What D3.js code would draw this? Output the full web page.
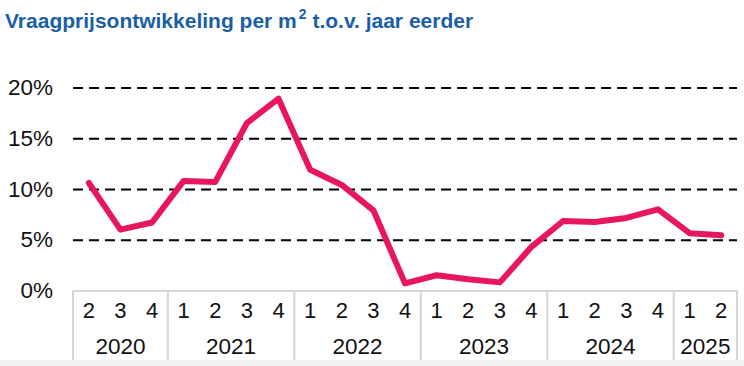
<!DOCTYPE html>
<html>
<head>
<meta charset="utf-8">
<script src="https://cdn.jsdelivr.net/npm/d3@7"></script>
<style>
  html, body { margin: 0; padding: 0; background: #fff; }
  svg { display: block; font-family: "Liberation Sans", Arial, sans-serif; }
</style>
</head>
<body>
<svg id="chart" width="744" height="366"></svg>
<script>
// ---- data ----
const periods = ["2020-2","2020-3","2020-4",
                 "2021-1","2021-2","2021-3","2021-4",
                 "2022-1","2022-2","2022-3","2022-4",
                 "2023-1","2023-2","2023-3","2023-4",
                 "2024-1","2024-2","2024-3","2024-4",
                 "2025-1","2025-2"];
const values = [10.6, 6.0, 6.7,
                10.8, 10.7, 16.5, 18.9,
                11.9, 10.4, 7.9, 0.7,
                1.5, 1.1, 0.8, 4.3,
                6.85, 6.75, 7.15, 8.0,
                5.65, 5.45];
const years = ["2020","2021","2022","2023","2024","2025"];
const yTicks = [0, 5, 10, 15, 20];
const titleMain = "Vraagprijsontwikkeling per m";
const titleSup = "2";
const titleRest = " t.o.v. jaar eerder";

// ---- layout ----
const svg = d3.select("#chart");
const mLeft = 73, mRight = 737, mTop = 87.5, mBottom = 290.5;
const x = d3.scaleBand().domain(periods).range([mLeft, mRight]).padding(0);
const y = d3.scaleLinear().domain([0, 20]).range([mBottom, mTop]);

// bottom grey band
svg.append("rect").attr("x", 0).attr("y", 360).attr("width", 744).attr("height", 6).attr("fill", "#f1f1f1");

// title
const title = svg.append("text").attr("x", 5).attr("y", 28)
  .attr("fill", "#1b5ea8").attr("font-weight", "bold").attr("font-size", 21);
title.append("tspan").text(titleMain);
title.append("tspan").attr("font-size", 14).attr("dy", -9).attr("dx", 2).text(titleSup);
title.append("tspan").attr("dy", 9).text(titleRest);

// gridlines
const grid = svg.append("g").attr("transform", `translate(${mLeft},0)`)
  .call(d3.axisLeft(y).tickValues(yTicks.filter(d => d > 0)).tickSize(-(mRight - mLeft)).tickFormat(""));
grid.select(".domain").remove();
grid.selectAll("line").attr("stroke", "#000").attr("stroke-width", 2).attr("stroke-dasharray", "10,6");

// y axis labels
const yAxis = svg.append("g").attr("transform", `translate(${mLeft},0)`)
  .call(d3.axisLeft(y).tickValues(yTicks).tickSize(0).tickPadding(20).tickFormat(d => d + "%"));
yAxis.select(".domain").remove();
yAxis.selectAll("text").attr("font-size", 22.5).attr("fill", "#111").attr("font-family", "Liberation Sans, Arial, sans-serif");

// x axis (quarters)
const xAxis = svg.append("g").attr("transform", `translate(0,${mBottom})`)
  .call(d3.axisBottom(x).tickSize(0).tickPadding(12).tickFormat(d => d.split("-")[1]));
xAxis.select(".domain").attr("stroke", "#d6d6d6").attr("stroke-width", 2);
xAxis.selectAll("text").attr("font-size", 22).attr("fill", "#111").attr("font-family", "Liberation Sans, Arial, sans-serif");

// year groups
const groups = years.map(yr => {
  const ps = periods.filter(p => p.startsWith(yr));
  return { year: yr, x0: x(ps[0]), x1: x(ps[ps.length - 1]) + x.bandwidth() };
});
const boundaries = [groups[0].x0].concat(groups.map(g => g.x1));
svg.append("g").selectAll("line").data(boundaries).join("line")
  .attr("x1", d => d).attr("x2", d => d).attr("y1", mBottom).attr("y2", 360)
  .attr("stroke", "#d6d6d6").attr("stroke-width", 2);
svg.append("g").selectAll("text").data(groups).join("text")
  .attr("x", d => (d.x0 + d.x1) / 2).attr("y", 354)
  .attr("text-anchor", "middle").attr("font-size", 22.5).attr("fill", "#111")
  .text(d => d.year);

// line
const line = d3.line().x((d, i) => x(periods[i]) + x.bandwidth() / 2).y(d => y(d));
svg.append("path").datum(values).attr("d", line)
  .attr("fill", "none").attr("stroke", "#e8175d").attr("stroke-width", 6)
  .attr("stroke-linejoin", "round").attr("stroke-linecap", "round");
</script>
</body>
</html>
